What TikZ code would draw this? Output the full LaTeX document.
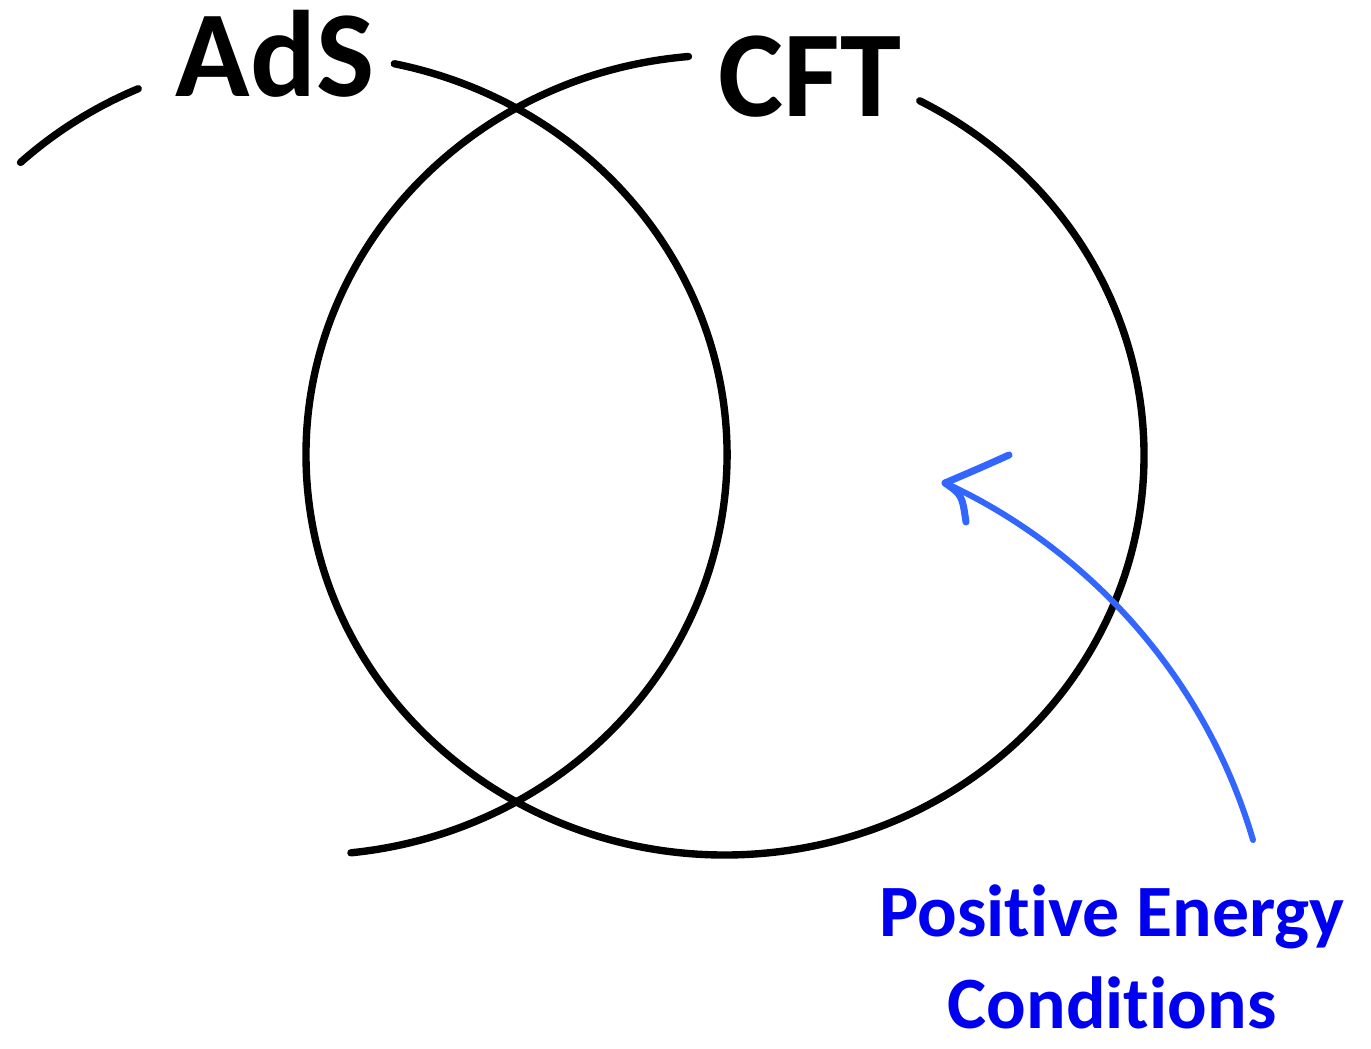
\documentclass[tikz,border=0pt]{standalone}
\usepackage{fontspec}
\setmainfont[Ligatures=NoCommon]{Carlito}
\usepackage{xcolor}
\usepackage{tikz}
\usetikzlibrary{calc}
\usetikzlibrary{positioning}

\definecolor{textblue}{RGB}{0,0,240}
\definecolor{arrowblue}{RGB}{51,102,255}

\begin{document}
\begin{tikzpicture}[
    ring/.style={draw=black, line width=2.1pt, line cap=round},
    pointer/.style={draw=arrowblue, line width=1.7pt, line cap=round},
    title/.style={font=\fontsize{35}{42}\selectfont\bfseries, anchor=base, inner sep=0pt},
    remark/.style={font=\fontsize{21}{26.2}\selectfont\bfseries, text=textblue, align=center, anchor=base, inner sep=0pt}
  ]
            \useasboundingbox (0,0) rectangle (13.71,-10.49);
            \coordinate (adsc) at (3.07,-4.55);
            \coordinate (cftc) at (7.25,-4.55);
            % AdS circle, broken round its label
            \draw[ring] ([shift={(113.7:4.2 and 4)}]adsc) arc[start angle=113.7, end angle=133, x radius=4.2, y radius=4];
            \draw[ring] ([shift={(78:4.2 and 4)}]adsc) arc[start angle=78, end angle=-84, x radius=4.2, y radius=4];
            % CFT circle
            \draw[ring] ([shift={(95:4.19 and 4)}]cftc) arc[start angle=95, end angle=422.3, x radius=4.19, y radius=4];
            \node[title] at (2.75,-0.97) (ads) {AdS};
            \node[title] at (8.10,-1.17) (cft) {CFT};
            \node[remark] at (11.12,-10.29) (pec) {Positive Energy\\Conditions};
            \coordinate (tail) at (12.53,-8.40);
            \coordinate (tip) at (9.45,-4.83);
            \coordinate (barbA) at (10.09,-4.55);
            \coordinate (barbB) at (9.66,-5.22);
            \draw[pointer] (tail) .. controls (12.00,-6.60) and (10.70,-5.40) .. (tip);
            \draw[pointer, line width=2pt] (tip) .. controls (9.80,-4.68) .. (barbA);
            \draw[pointer, line width=2pt] (tip) .. controls (9.62,-4.95) .. (barbB);
        \end{tikzpicture}
\end{document}
